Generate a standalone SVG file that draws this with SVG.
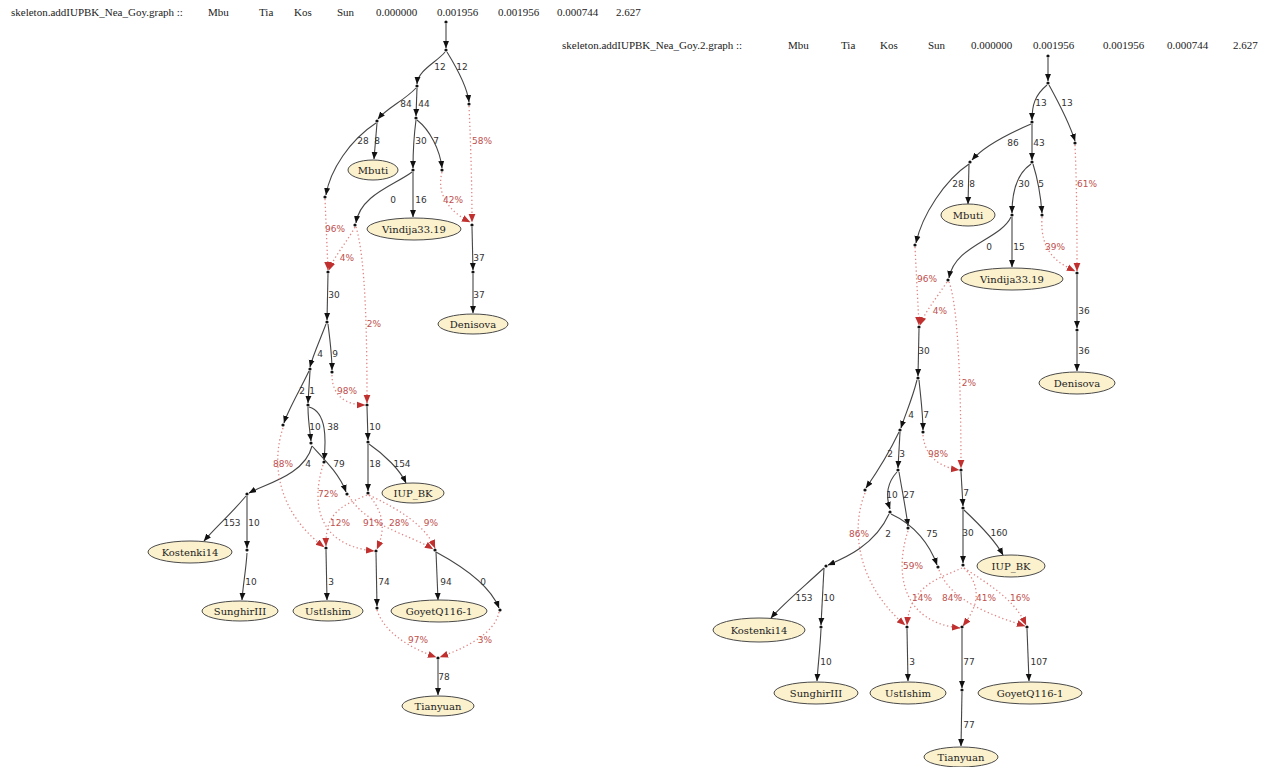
<svg xmlns="http://www.w3.org/2000/svg" width="1274" height="767" viewBox="0 0 1274 767">
<style>
.e{fill:none;stroke:#454545;stroke-width:1.1;marker-end:url(#ab)}
.d{fill:none;stroke:#e08585;stroke-width:1.3;stroke-dasharray:1.3 2.6;marker-end:url(#ar)}
.p{fill:#111}
.nd ellipse{fill:#fbf1cd;stroke:#4a4a4a;stroke-width:1}
.nl{font-family:"DejaVu Serif",serif;font-size:10px;text-anchor:middle;fill:#222}
.el{font-family:"DejaVu Sans",sans-serif;font-size:9px;text-anchor:middle;fill:#333}
.pl{font-family:"DejaVu Sans",sans-serif;font-size:9px;text-anchor:middle;fill:#c0504d}
.hd{font-family:"Liberation Serif",serif;font-size:11px;fill:#222}
</style>
<defs>
<marker id="ab" viewBox="0 0 10 10" refX="9.5" refY="5" markerWidth="7.5" markerHeight="7.5" markerUnits="userSpaceOnUse" orient="auto"><path d="M0,1 L10,5 L0,9 z" fill="#111"/></marker>
<marker id="ar" viewBox="0 0 10 10" refX="9.5" refY="5" markerWidth="8.5" markerHeight="8.5" markerUnits="userSpaceOnUse" orient="auto"><path d="M0,1 L10,5 L0,9 z" fill="#c0302f"/></marker>
</defs>
<rect width="1274" height="767" fill="#fff"/>

<g id="header-left" class="hd">
<text x="11" y="16">skeleton.addIUPBK_Nea_Goy.graph ::</text>
<text x="208" y="16">Mbu</text><text x="259" y="16">Tia</text><text x="294" y="16">Kos</text><text x="337" y="16">Sun</text>
<text x="376" y="16">0.000000</text><text x="437" y="16">0.001956</text><text x="498" y="16">0.001956</text><text x="557" y="16">0.000744</text><text x="616" y="16">2.627</text>
</g>
<g id="header-right" class="hd">
<text x="562" y="49">skeleton.addIUPBK_Nea_Goy.2.graph ::</text>
<text x="788" y="49">Mbu</text><text x="841" y="49">Tia</text><text x="880" y="49">Kos</text><text x="928" y="49">Sun</text>
<text x="971" y="49">0.000000</text><text x="1033" y="49">0.001956</text><text x="1103" y="49">0.001956</text><text x="1167" y="49">0.000744</text><text x="1233" y="49">2.627</text>
</g>

<g id="connectors-left">
<path class="e" d="M446,24 L446,48"/>
<path class="e" d="M445,52 C437,62 418,70 417,84"/>
<path class="e" d="M447,52 C455,65 467,85 469,102"/>
<path class="e" d="M416,88 C405,100 387,108 378,119"/>
<path class="e" d="M417,88 L416,116"/>
<path class="e" d="M376,123 C350,140 330,170 326,195"/>
<path class="e" d="M377,123 L374,159"/>
<path class="e" d="M416,120 C414,135 413,150 413,168"/>
<path class="e" d="M417,120 C430,130 440,150 442,168"/>
<path class="e" d="M412,172 C395,185 360,195 356,223"/>
<path class="e" d="M413,172 L413,217"/>
<path class="e" d="M472,227 L473,270"/>
<path class="e" d="M473,274 L473,313"/>
<path class="e" d="M328,274 L327,320"/>
<path class="e" d="M326,324 C320,340 313,355 310,367"/>
<path class="e" d="M328,324 C330,340 332,355 332,370"/>
<path class="e" d="M309,371 C300,390 288,410 284,423"/>
<path class="e" d="M310,371 L308,403"/>
<path class="e" d="M308,407 C308,420 310,432 311,441"/>
<path class="e" d="M309,407 C327,412 326,440 324,460"/>
<path class="e" d="M312,446 C305,475 265,484 249,493"/>
<path class="e" d="M312,446 C325,460 340,475 346,492"/>
<path class="e" d="M246,496 C230,515 215,528 204,541"/>
<path class="e" d="M247,496 L247,548"/>
<path class="e" d="M247,553 C246,570 243,585 242,600"/>
<path class="e" d="M367,407 L368,440"/>
<path class="e" d="M368,444 L368,491"/>
<path class="e" d="M369,444 C385,455 400,470 406,483"/>
<path class="e" d="M326,550 L327,600"/>
<path class="e" d="M376,553 L377,606"/>
<path class="e" d="M436,552 L438,600"/>
<path class="e" d="M436,552 C460,565 490,585 499,608"/>
<path class="e" d="M438,660 L438,695"/>
<path class="d" d="M469,106 C471,150 472,190 472,222"/>
<path class="d" d="M442,172 C436,195 450,212 470,222"/>
<path class="d" d="M325,199 L328,270"/>
<path class="d" d="M355,227 C345,245 335,255 329,270"/>
<path class="d" d="M356,227 C366,260 367,340 367,403"/>
<path class="d" d="M332,375 C332,395 345,405 365,405"/>
<path class="d" d="M283,428 C272,460 275,510 324,547"/>
<path class="d" d="M323,465 C312,500 315,545 374,551"/>
<path class="d" d="M367,495 C345,505 325,510 326,546"/>
<path class="d" d="M369,495 C385,515 385,530 377,549"/>
<path class="d" d="M349,496 C365,525 410,535 433,549"/>
<path class="d" d="M369,495 C400,510 425,525 435,548"/>
<path class="d" d="M377,610 C385,635 415,650 436,657"/>
<path class="d" d="M499,612 C495,635 460,650 440,657"/>
<g class="el">
<text x="440" y="70">12</text><text x="462" y="70">12</text>
<text x="406" y="107">84</text><text x="424" y="107">44</text>
<text x="363" y="144">28</text><text x="377" y="144">8</text>
<text x="421" y="144">30</text><text x="436" y="144">7</text>
<text x="393" y="203">0</text><text x="421" y="203">16</text>
<text x="479" y="261">37</text><text x="479" y="298">37</text>
<text x="334" y="298">30</text>
<text x="320" y="357">4</text><text x="335" y="357">9</text>
<text x="302" y="394">2</text><text x="312" y="394">1</text>
<text x="315" y="430">10</text><text x="333" y="430">38</text>
<text x="375" y="430">10</text>
<text x="308" y="467">4</text><text x="339" y="467">79</text>
<text x="375" y="467">18</text><text x="402" y="467">154</text>
<text x="232" y="526">153</text><text x="254" y="526">10</text>
<text x="251" y="585">10</text><text x="331" y="585">3</text>
<text x="384" y="585">74</text><text x="446" y="585">94</text><text x="483" y="585">0</text>
<text x="444" y="680">78</text>
</g>
<g class="pl">
<text x="482" y="144">58%</text><text x="453" y="203">42%</text>
<text x="335" y="232">96%</text><text x="347" y="261">4%</text>
<text x="374" y="327">2%</text><text x="347" y="394">98%</text>
<text x="283" y="467">88%</text><text x="328" y="497">72%</text>
<text x="340" y="526">12%</text><text x="373" y="526">91%</text><text x="399" y="526">28%</text><text x="431" y="526">9%</text>
<text x="418" y="643">97%</text><text x="485" y="643">3%</text>
</g>
</g>

<g id="connectors-right">
<path class="e" d="M1048,58 L1048,81"/>
<path class="e" d="M1047,85 C1035,95 1032,105 1032,120"/>
<path class="e" d="M1049,85 C1060,105 1070,125 1075,141"/>
<path class="e" d="M1031,124 C1010,133 985,145 972,160"/>
<path class="e" d="M1032,124 L1032,160"/>
<path class="e" d="M969,164 C945,180 922,215 916,243"/>
<path class="e" d="M969,164 L968,204"/>
<path class="e" d="M1031,164 C1015,175 1012,195 1012,213"/>
<path class="e" d="M1033,164 C1038,180 1041,200 1042,213"/>
<path class="e" d="M1011,217 C1000,240 955,245 949,278"/>
<path class="e" d="M1012,217 L1012,267"/>
<path class="e" d="M1077,275 L1077,328"/>
<path class="e" d="M1077,332 L1077,371"/>
<path class="e" d="M919,329 L918,376"/>
<path class="e" d="M917,380 C912,400 905,415 901,428"/>
<path class="e" d="M919,380 C921,400 923,415 923,430"/>
<path class="e" d="M899,432 C888,455 875,475 866,488"/>
<path class="e" d="M900,432 L898,468"/>
<path class="e" d="M897,472 C885,485 887,500 890,509"/>
<path class="e" d="M899,472 C902,490 906,510 908,526"/>
<path class="e" d="M889,514 C875,545 845,558 828,565"/>
<path class="e" d="M891,514 C915,525 930,545 937,565"/>
<path class="e" d="M824,568 C800,590 782,605 771,618"/>
<path class="e" d="M824,568 L821,625"/>
<path class="e" d="M821,629 C820,650 818,665 817,681"/>
<path class="e" d="M961,472 L963,506"/>
<path class="e" d="M963,510 L963,563"/>
<path class="e" d="M964,510 C980,525 995,540 1003,555"/>
<path class="e" d="M907,629 L908,681"/>
<path class="e" d="M962,629 L962,688"/>
<path class="e" d="M962,692 L961,746"/>
<path class="e" d="M1027,629 L1029,681"/>
<path class="d" d="M1075,145 C1077,190 1077,240 1077,271"/>
<path class="d" d="M1042,217 C1040,250 1055,262 1075,271"/>
<path class="d" d="M915,247 L919,325"/>
<path class="d" d="M947,282 C935,300 925,312 920,325"/>
<path class="d" d="M949,282 C960,310 961,420 961,468"/>
<path class="d" d="M923,435 C925,460 945,468 959,470"/>
<path class="d" d="M865,493 C850,530 858,585 905,625"/>
<path class="d" d="M908,531 C895,570 900,622 960,628"/>
<path class="d" d="M962,568 C940,578 910,585 907,625"/>
<path class="d" d="M964,568 C985,590 975,610 963,626"/>
<path class="d" d="M939,570 C950,600 990,615 1025,626"/>
<path class="d" d="M964,568 C990,585 1015,600 1026,625"/>
<g class="el">
<text x="1041" y="106">13</text><text x="1067" y="106">13</text>
<text x="1013" y="146">86</text><text x="1039" y="146">43</text>
<text x="958" y="187">28</text><text x="972" y="187">8</text>
<text x="1024" y="187">30</text><text x="1041" y="187">5</text>
<text x="989" y="250">0</text><text x="1019" y="250">15</text>
<text x="1084" y="314">36</text><text x="1084" y="354">36</text>
<text x="924" y="354">30</text>
<text x="911" y="418">4</text><text x="926" y="418">7</text>
<text x="890" y="457">2</text><text x="902" y="457">3</text>
<text x="892" y="498">10</text><text x="909" y="498">27</text>
<text x="966" y="496">7</text>
<text x="888" y="537">2</text><text x="932" y="537">75</text>
<text x="968" y="536">30</text><text x="999" y="536">160</text>
<text x="804" y="601">153</text><text x="829" y="601">10</text>
<text x="826" y="665">10</text><text x="912" y="665">3</text>
<text x="969" y="665">77</text><text x="1039" y="665">107</text>
<text x="969" y="728">77</text>
</g>
<g class="pl">
<text x="1087" y="187">61%</text><text x="1055" y="250">39%</text>
<text x="927" y="282">96%</text><text x="940" y="314">4%</text>
<text x="969" y="386">2%</text><text x="938" y="457">98%</text>
<text x="859" y="537">86%</text><text x="913" y="569">59%</text>
<text x="922" y="601">14%</text><text x="952" y="601">84%</text><text x="986" y="601">41%</text><text x="1020" y="601">16%</text>
</g>
</g>

<g id="points">
<circle class="p" cx="446" cy="22" r="1.6"/><circle class="p" cx="446" cy="50" r="1.6"/>
<circle class="p" cx="417" cy="86" r="1.6"/><circle class="p" cx="469" cy="104" r="1.6"/>
<circle class="p" cx="377" cy="121" r="1.6"/><circle class="p" cx="416" cy="118" r="1.6"/>
<circle class="p" cx="325" cy="197" r="1.6"/><circle class="p" cx="413" cy="170" r="1.6"/>
<circle class="p" cx="442" cy="170" r="1.6"/><circle class="p" cx="355" cy="225" r="1.6"/>
<circle class="p" cx="472" cy="225" r="1.6"/><circle class="p" cx="473" cy="272" r="1.6"/>
<circle class="p" cx="328" cy="272" r="1.6"/><circle class="p" cx="327" cy="322" r="1.6"/>
<circle class="p" cx="310" cy="369" r="1.6"/><circle class="p" cx="332" cy="372" r="1.6"/>
<circle class="p" cx="367" cy="405" r="1.6"/><circle class="p" cx="283" cy="425" r="1.6"/>
<circle class="p" cx="308" cy="405" r="1.6"/><circle class="p" cx="311" cy="443" r="1.6"/>
<circle class="p" cx="324" cy="462" r="1.6"/><circle class="p" cx="247" cy="494" r="1.6"/>
<circle class="p" cx="347" cy="494" r="1.6"/><circle class="p" cx="368" cy="442" r="1.6"/>
<circle class="p" cx="368" cy="493" r="1.6"/><circle class="p" cx="247" cy="550" r="1.6"/>
<circle class="p" cx="326" cy="548" r="1.6"/><circle class="p" cx="376" cy="551" r="1.6"/>
<circle class="p" cx="435" cy="550" r="1.6"/><circle class="p" cx="377" cy="608" r="1.6"/>
<circle class="p" cx="500" cy="610" r="1.6"/><circle class="p" cx="438" cy="658" r="1.6"/>
<circle class="p" cx="1048" cy="56" r="1.6"/><circle class="p" cx="1048" cy="83" r="1.6"/>
<circle class="p" cx="1032" cy="122" r="1.6"/><circle class="p" cx="1075" cy="143" r="1.6"/>
<circle class="p" cx="970" cy="162" r="1.6"/><circle class="p" cx="1032" cy="162" r="1.6"/>
<circle class="p" cx="915" cy="245" r="1.6"/><circle class="p" cx="1012" cy="215" r="1.6"/>
<circle class="p" cx="1042" cy="215" r="1.6"/><circle class="p" cx="948" cy="280" r="1.6"/>
<circle class="p" cx="1077" cy="273" r="1.6"/><circle class="p" cx="1077" cy="330" r="1.6"/>
<circle class="p" cx="919" cy="327" r="1.6"/><circle class="p" cx="918" cy="378" r="1.6"/>
<circle class="p" cx="900" cy="430" r="1.6"/><circle class="p" cx="923" cy="432" r="1.6"/>
<circle class="p" cx="961" cy="470" r="1.6"/><circle class="p" cx="865" cy="490" r="1.6"/>
<circle class="p" cx="898" cy="470" r="1.6"/><circle class="p" cx="890" cy="512" r="1.6"/>
<circle class="p" cx="908" cy="528" r="1.6"/><circle class="p" cx="826" cy="566" r="1.6"/>
<circle class="p" cx="938" cy="567" r="1.6"/><circle class="p" cx="963" cy="508" r="1.6"/>
<circle class="p" cx="963" cy="565" r="1.6"/><circle class="p" cx="821" cy="627" r="1.6"/>
<circle class="p" cx="907" cy="627" r="1.6"/><circle class="p" cx="962" cy="627" r="1.6"/>
<circle class="p" cx="1027" cy="627" r="1.6"/><circle class="p" cx="962" cy="690" r="1.6"/>
</g>

<g id="Mbuti" class="nd"><ellipse cx="373" cy="170" rx="25" ry="10"/><text class="nl" x="373" y="174">Mbuti</text></g>
<g id="Vindija33.19" class="nd"><ellipse cx="414" cy="229" rx="47" ry="11"/><text class="nl" x="414" y="233">Vindija33.19</text></g>
<g id="Denisova" class="nd"><ellipse cx="473" cy="324" rx="35" ry="10"/><text class="nl" x="473" y="328">Denisova</text></g>
<g id="IUP_BK" class="nd"><ellipse cx="413" cy="493" rx="31" ry="10"/><text class="nl" x="413" y="497">IUP_BK</text></g>
<g id="Kostenki14" class="nd"><ellipse cx="190" cy="552" rx="42" ry="11"/><text class="nl" x="190" y="556">Kostenki14</text></g>
<g id="SunghirIII" class="nd"><ellipse cx="240" cy="611" rx="38" ry="10"/><text class="nl" x="240" y="615">SunghirIII</text></g>
<g id="UstIshim" class="nd"><ellipse cx="328" cy="611" rx="35" ry="10"/><text class="nl" x="328" y="615">UstIshim</text></g>
<g id="GoyetQ116-1" class="nd"><ellipse cx="439" cy="611" rx="48" ry="11"/><text class="nl" x="439" y="615">GoyetQ116-1</text></g>
<g id="Tianyuan" class="nd"><ellipse cx="438" cy="706" rx="36" ry="10"/><text class="nl" x="438" y="710">Tianyuan</text></g>

<g id="Mbuti-2" class="nd"><ellipse cx="968" cy="215" rx="27" ry="11"/><text class="nl" x="968" y="219">Mbuti</text></g>
<g id="Vindija33.19-2" class="nd"><ellipse cx="1012" cy="279" rx="51" ry="11"/><text class="nl" x="1012" y="283">Vindija33.19</text></g>
<g id="Denisova-2" class="nd"><ellipse cx="1077" cy="383" rx="38" ry="11"/><text class="nl" x="1077" y="387">Denisova</text></g>
<g id="IUP_BK-2" class="nd"><ellipse cx="1011" cy="566" rx="34" ry="11"/><text class="nl" x="1011" y="570">IUP_BK</text></g>
<g id="Kostenki14-2" class="nd"><ellipse cx="759" cy="630" rx="46" ry="12"/><text class="nl" x="759" y="634">Kostenki14</text></g>
<g id="SunghirIII-2" class="nd"><ellipse cx="816" cy="693" rx="42" ry="11"/><text class="nl" x="816" y="697">SunghirIII</text></g>
<g id="UstIshim-2" class="nd"><ellipse cx="908" cy="693" rx="38" ry="11"/><text class="nl" x="908" y="697">UstIshim</text></g>
<g id="GoyetQ116-1-2" class="nd"><ellipse cx="1030" cy="693" rx="52" ry="11"/><text class="nl" x="1030" y="697">GoyetQ116-1</text></g>
<g id="Tianyuan-2" class="nd"><ellipse cx="961" cy="757" rx="37" ry="10"/><text class="nl" x="961" y="761">Tianyuan</text></g>
</svg>
